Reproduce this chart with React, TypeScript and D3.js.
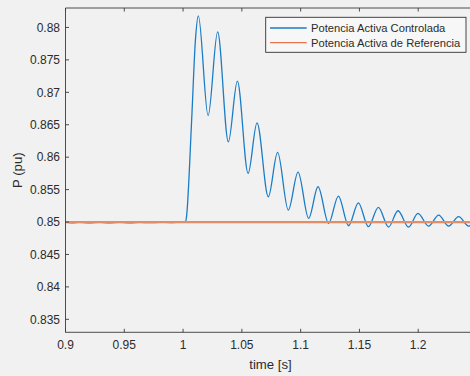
import React from "react";
import * as d3 from "d3";

// Controlled active power response (pu) over time (s)
const timeS: number[] = [
  0.9, 0.905, 0.912, 0.92, 0.929, 0.937, 0.946, 0.955, 0.963, 0.972, 0.98, 0.989, 0.997, 1.002,
  1.0028, 1.0073, 1.0105, 1.013, 1.0213, 1.0294, 1.0385, 1.0462, 1.0553, 1.0629, 1.0725,
  1.0804, 1.0895, 1.0978, 1.1068, 1.1148, 1.1238, 1.1321, 1.1408, 1.1491, 1.1576, 1.1661,
  1.1748, 1.1828, 1.1918, 1.1998, 1.2088, 1.2174, 1.2259, 1.2344, 1.2429, 1.2511,
];
const controlledP: number[] = [
  0.85, 0.84988, 0.84996, 0.84986, 0.84995, 0.84988, 0.84996, 0.84989, 0.84996, 0.8499, 0.84996, 0.84991, 0.84996, 0.85,
  0.85062, 0.86572, 0.87804, 0.88179, 0.86641, 0.87932, 0.86237, 0.87173, 0.8575, 0.8653, 0.8539,
  0.86074, 0.85185, 0.8577, 0.85057, 0.85544, 0.8498, 0.85401, 0.84943, 0.85297, 0.84928, 0.85226,
  0.84923, 0.85174, 0.84923, 0.85134, 0.84938, 0.85108, 0.84938, 0.85082, 0.84938, 0.85065,
];

// Reference active power (pu)
const referenceTime: number[] = [0.9, 1.26];
const referenceP: number[] = [0.85, 0.85];

const xTicks: number[] = [0.9, 0.95, 1.0, 1.05, 1.1, 1.15, 1.2];
const yTicks: number[] = [0.835, 0.84, 0.845, 0.85, 0.855, 0.86, 0.865, 0.87, 0.875, 0.88];
const seriesNames: string[] = ["Potencia Activa Controlada", "Potencia Activa de Referencia"];

const W = 470;
const H = 376;
const left = 65.5;
const right = 477;
const top = 8;
const bottom = 332.3;

const FONT = "'Liberation Sans', Arial, Helvetica, sans-serif";
const TEXT = "#2b2b2b";
const AXIS = "#3a3a3a";
const BLUE = "#1a7cc6";
const ORANGE = "#e48c66";

export default function App() {
  const x = d3.scaleLinear().domain([0.9, 1.25]).range([left, right]);
  const y = d3.scaleLinear().domain([0.833, 0.883]).range([bottom, top]);

  const line = d3
    .line<[number, number]>()
    .x((d) => x(d[0]))
    .y((d) => y(d[1]))
    .curve(d3.curveMonotoneX);

  const controlled = line(timeS.map((t, i) => [t, controlledP[i]] as [number, number])) || "";
  const reference = line(referenceTime.map((t, i) => [t, referenceP[i]] as [number, number])) || "";

  const tickLen = 3.5;
  const fmtX = (v: number) => String(+v.toFixed(2));
  const fmtY = (v: number) => String(+v.toFixed(3));

  const lgX = 265.7;
  const lgY = 17.3;
  const lgW = 200.3;
  const lgH = 35;

  return (
    <svg
      width={W}
      height={H}
      style={{ position: "absolute", left: 0, top: 0, display: "block" }}
      fontFamily={FONT}
    >
      <defs>
        <clipPath id="plot-area">
          <rect x={left} y={top} width={right - left} height={bottom - top} />
        </clipPath>
      </defs>
      <rect x={0} y={0} width={W} height={H} fill="#f1f1f1" />

      {/* data lines */}
      <g clipPath="url(#plot-area)">
        <path d={controlled} fill="none" stroke={BLUE} strokeWidth={1.3} />
        <path d={reference} fill="none" stroke={ORANGE} strokeWidth={2.2} />
      </g>

      {/* axes box */}
      <g stroke={AXIS} strokeWidth={0.9} fill="none">
        <line x1={left} x2={right} y1={bottom} y2={bottom} />
        <line x1={left} x2={right} y1={top} y2={top} />
        <line x1={left} x2={left} y1={top} y2={bottom} />
        <line x1={right} x2={right} y1={top} y2={bottom} />
        {xTicks.map((t) => (
          <g key={"xt" + t}>
            <line x1={x(t)} x2={x(t)} y1={bottom} y2={bottom - tickLen} />
            <line x1={x(t)} x2={x(t)} y1={top} y2={top + tickLen} />
          </g>
        ))}
        {yTicks.map((v) => (
          <line key={"yt" + v} x1={left} x2={left + tickLen} y1={y(v)} y2={y(v)} />
        ))}
      </g>

      {/* tick labels */}
      <g fill={TEXT} fontSize={12}>
        {xTicks.map((t) => (
          <text key={"xl" + t} x={x(t)} y={348.5} textAnchor="middle">
            {fmtX(t)}
          </text>
        ))}
        {yTicks.map((v) => (
          <text key={"yl" + v} x={60} y={y(v) + 4.3} textAnchor="end">
            {fmtY(v)}
          </text>
        ))}
      </g>

      {/* axis titles */}
      <text x={270.5} y={368.5} fontSize={13.2} fill={TEXT} textAnchor="middle">
        time [s]
      </text>
      <text
        transform={`translate(22, ${(top + bottom) / 2}) rotate(-90)`}
        fontSize={13.2}
        fill={TEXT}
        textAnchor="middle"
      >
        P (pu)
      </text>

      {/* legend */}
      <g>
        <rect x={lgX} y={lgY} width={lgW} height={lgH} fill="#f7f7f7" stroke="#333" strokeWidth={0.9} />
        <line x1={270} x2={306.7} y1={28} y2={28} stroke={BLUE} strokeWidth={1.3} />
        <line x1={270} x2={306.7} y1={42.7} y2={42.7} stroke="#e8764a" strokeWidth={1.3} />
        <text x={311} y={32} fontSize={11.2} fill={TEXT}>
          {seriesNames[0]}
        </text>
        <text x={311} y={46.7} fontSize={11.2} fill={TEXT}>
          {seriesNames[1]}
        </text>
      </g>
    </svg>
  );
}
